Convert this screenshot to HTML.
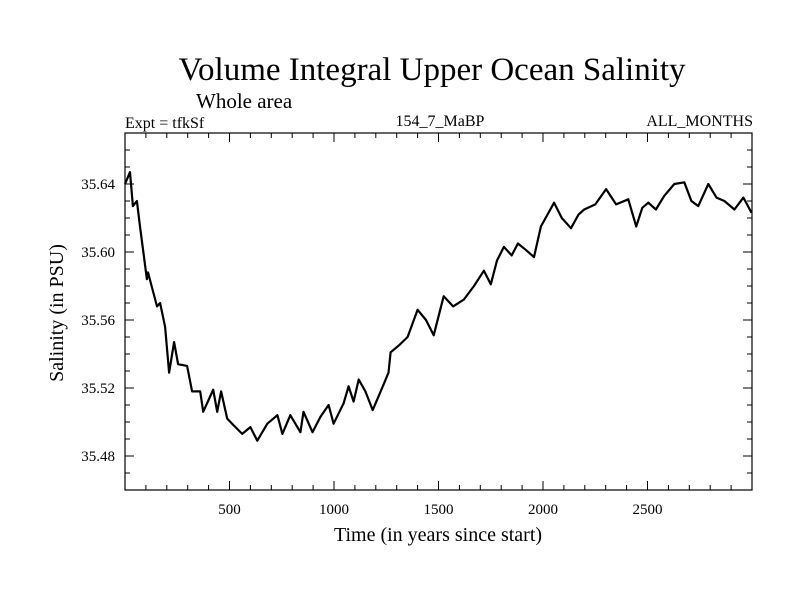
<!DOCTYPE html>
<html><head><meta charset="utf-8"><style>
body{margin:0;background:#fff;}
svg{display:block;font-family:"Liberation Serif",serif;}
</style></head><body>
<svg id="chart" width="800" height="600" viewBox="0 0 800 600" xmlns="http://www.w3.org/2000/svg">
<text x="432" y="80" font-size="33" text-anchor="middle">Volume Integral Upper Ocean Salinity</text>
<text x="196" y="108" font-size="21">Whole area</text>
<text x="125" y="128" font-size="16">Expt = tfkSf</text>
<text x="440" y="126" font-size="16" text-anchor="middle">154_7_MaBP</text>
<text x="753" y="126" font-size="16" text-anchor="end">ALL_MONTHS</text>
<text x="0" y="0" font-size="20" text-anchor="middle" transform="translate(63,313) rotate(-90)">Salinity (in PSU)</text>
<text x="438" y="541" font-size="20" text-anchor="middle">Time (in years since start)</text>
<g id="axes"></g>
<g id="series"></g>
</svg>
<script>
const years=[0,24,38,57,72,105,110,153,168,192,211,235,254,297,321,360,374,422,441,460,489,520,561,600,633,681,729,753,791,839,854,897,935,974,998,1046,1070,1094,1118,1150,1185,1230,1261,1271,1310,1352,1400,1440,1477,1525,1570,1621,1670,1717,1750,1780,1813,1850,1880,1920,1957,1990,2053,2090,2134,2170,2197,2250,2302,2350,2408,2446,2475,2504,2540,2580,2628,2676,2710,2743,2791,2830,2868,2916,2959,2998];
const salinity=[35.640,35.647,35.627,35.630,35.615,35.584,35.588,35.568,35.570,35.556,35.529,35.547,35.534,35.533,35.518,35.518,35.506,35.519,35.506,35.518,35.502,35.498,35.493,35.497,35.489,35.499,35.504,35.493,35.504,35.494,35.506,35.494,35.503,35.510,35.499,35.511,35.521,35.512,35.525,35.518,35.507,35.520,35.529,35.541,35.545,35.550,35.566,35.560,35.551,35.574,35.568,35.572,35.580,35.589,35.581,35.595,35.603,35.598,35.605,35.601,35.597,35.615,35.629,35.620,35.614,35.622,35.625,35.628,35.637,35.628,35.631,35.615,35.626,35.629,35.625,35.633,35.640,35.641,35.630,35.627,35.640,35.632,35.630,35.625,35.632,35.623];
const xTicks=[500,1000,1500,2000,2500];
const yTicks=[35.48,35.52,35.56,35.60,35.64];
const yLabels=["35.48","35.52","35.56","35.60","35.64"];
const X0=125,X1=752,Y0=490,Y1=133,XMIN=0,XMAX=3000,YMIN=35.46,YMAX=35.67;
const sx=v=>X0+(v-XMIN)/(XMAX-XMIN)*(X1-X0);
const sy=v=>Y0-(v-YMIN)/(YMAX-YMIN)*(Y0-Y1);
const NS="http://www.w3.org/2000/svg";
const axes=document.getElementById('axes');
function mk(tag,attrs,parent){const e=document.createElementNS(NS,tag);for(const k in attrs)e.setAttribute(k,attrs[k]);parent.appendChild(e);return e;}
const frame=mk('rect',{x:X0,y:Y1,width:X1-X0,height:Y0-Y1,fill:'none',stroke:'#000','stroke-width':1.2},axes);


for(let v=100;v<XMAX;v+=100){
  const major=v%500===0,L=major?9:5,x=sx(v);
  const t=mk('path',{d:`M${x},${Y0}v${-L}M${x},${Y1}v${L}`,stroke:'#000','stroke-width':1},axes);
  
  
}
xTicks.forEach(v=>{
  const t=mk('text',{x:sx(v),y:Y0+24,'font-size':15,'text-anchor':'middle'},axes);t.textContent=v;
  
  
});
for(let i=1;i<21;i++){
  const v=YMIN+i*0.01,major=(i-2)%4===0,L=major?9:5,y=sy(v);
  const t=mk('path',{d:`M${X0},${y}h${L}M${X1},${y}h${-L}`,stroke:'#000','stroke-width':1},axes);
  
  
}
yTicks.forEach((v,i)=>{
  const t=mk('text',{x:X0-10,y:sy(v)+5,'font-size':15,'text-anchor':'end'},axes);t.textContent=yLabels[i];
  
  
});
const d=years.map((yr,i)=>(i?'L':'M')+sx(yr).toFixed(1)+','+sy(salinity[i]).toFixed(1)).join('');
const line=mk('path',{d:d,fill:'none',stroke:'#000','stroke-width':2.2,'stroke-linejoin':'round'},document.getElementById('series'));


</script>
</body></html>
